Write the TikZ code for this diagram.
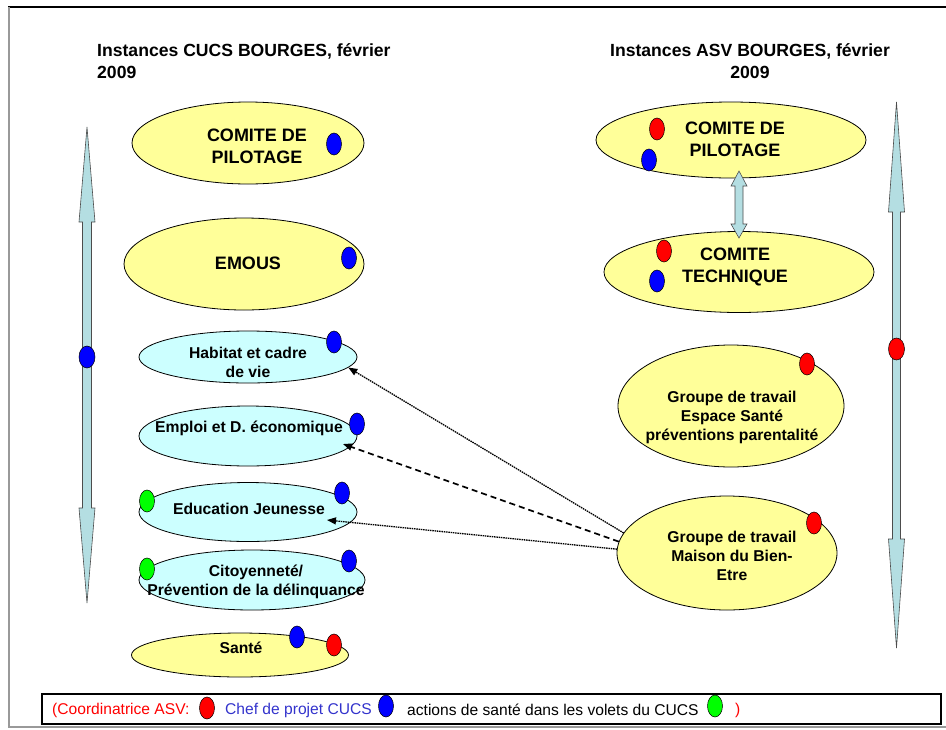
\documentclass[tikz,border=0pt]{standalone}
\usepackage{fontspec}
\setmainfont{Liberation Sans}
\usetikzlibrary{shapes.geometric,arrows.meta}

\definecolor{paleyellow}{HTML}{FFFF99}
\definecolor{palecyan}{HTML}{CCFFFF}
\definecolor{axisblue}{RGB}{180,222,226}
\definecolor{chefblue}{HTML}{3333CC}
\definecolor{dotblue}{HTML}{0000FF}
\definecolor{dotred}{HTML}{FF0000}
\definecolor{dotgreen}{HTML}{00FF00}
\definecolor{framegrey}{HTML}{999999}

\begin{document}
\begin{tikzpicture}[x=1pt,y=-1pt,
  instance/.style={ellipse, draw=black, line width=0.8pt, inner sep=0pt},
  yellowbox/.style={instance, fill=paleyellow},
  cyanbox/.style={instance, fill=palecyan},
  bigtext/.style={font=\fontsize{18}{22}\selectfont\bfseries, align=center, inner sep=0pt},
  smalltext/.style={font=\fontsize{15.7}{19}\selectfont\bfseries, align=center, inner sep=0pt},
  titletext/.style={font=\fontsize{17.6}{22}\selectfont\bfseries, inner sep=0pt},
  legendtext/.style={font=\fontsize{15.6}{19}\selectfont, inner sep=0pt, anchor=west},
  marker/.style={ellipse, draw=black, line width=0.5pt, minimum width=15pt, minimum height=22pt, inner sep=0pt},
  bluedot/.style={marker, fill=dotblue},
  reddot/.style={marker, fill=dotred},
  greendot/.style={marker, fill=dotgreen},
  axisarrow/.style={draw=black!70, line width=0.6pt, fill=axisblue},
  link/.style={-{Triangle[length=9pt,width=7pt]}, line width=1.3pt},
  finedots/.style={link, dash pattern=on 1.5pt off 0.8pt},
  coarsedash/.style={link, line width=1.7pt, dash pattern=on 6pt off 4pt}
]
\useasboundingbox (0,0) rectangle (946,729);

% page frame
\draw[line width=1.3pt] (8,7) -- (946,7);
\draw[framegrey, line width=1.5pt] (9,7) -- (9,727) -- (946,727);

% titles
\node[titletext, align=left, anchor=west] (ltitle) at (97,61) {Instances CUCS BOURGES, février\\2009};
\node[titletext, align=center] (rtitle) at (750,61) {Instances ASV BOURGES, février\\2009};

% vertical axis arrows
\draw[axisarrow] (87,127) -- (95,222) -- (91.5,222) -- (91.5,508) -- (95,508) -- (87,603)
  -- (79,508) -- (82.5,508) -- (82.5,222) -- (79,222) -- cycle;
\draw[axisarrow] (896.5,102) -- (904.5,212) -- (900.5,212) -- (900.5,539) -- (904.5,539) -- (896.5,648)
  -- (888.5,539) -- (892.5,539) -- (892.5,212) -- (888.5,212) -- cycle;

% CUCS instances
\node[yellowbox, minimum width=232pt, minimum height=82pt] (lpilot) at (248,143) {};
\node[bigtext] (lpilott) at (257,146) {COMITE DE\\PILOTAGE};
\node[yellowbox, minimum width=240pt, minimum height=92pt] (emous) at (244,264) {};
\node[bigtext] (emoust) at (248,263) {EMOUS};
\node[cyanbox, minimum width=218pt, minimum height=52pt] (habitat) at (248,357) {};
\node[smalltext] (habitatt) at (248,362) {Habitat et cadre\\de vie};
\node[cyanbox, minimum width=218pt, minimum height=60pt] (emploi) at (248,436) {};
\node[smalltext] (emploit) at (249,428) {Emploi et D. économique};
\node[cyanbox, minimum width=218pt, minimum height=59pt] (edu) at (248,512) {};
\node[smalltext] (edut) at (249,509) {Education Jeunesse};
\node[cyanbox, minimum width=226pt, minimum height=60pt] (cito) at (252,580) {};
\node[smalltext] (citot) at (256,582) {Citoyenneté/\\Prévention de la délinquance};
\node[yellowbox, minimum width=217pt, minimum height=44pt] (sante) at (240,655) {};
\node[smalltext] (santet) at (241,648) {Santé};

% ASV instances
\node[yellowbox, minimum width=270pt, minimum height=76pt] (rpilot) at (731,140) {};
\node[bigtext] (rpilott) at (735,139) {COMITE DE\\PILOTAGE};
\node[yellowbox, minimum width=270pt, minimum height=81pt] (tech) at (739,272) {};
\node[bigtext] (techt) at (735,267) {COMITE\\TECHNIQUE};
\node[yellowbox, minimum width=226pt, minimum height=122pt] (espace) at (731,406) {};
\node[smalltext] (espacet) at (732,417) {Groupe de travail\\Espace Santé\\préventions parentalité};
\node[yellowbox, minimum width=220pt, minimum height=114pt] (maison) at (727,553) {};
\node[smalltext] (maisont) at (732,556) {Groupe de travail\\Maison du Bien-\\Etre};

% link between the two committees
\draw[axisarrow] (739,171) -- (747,186) -- (743,186) -- (743,224) -- (747,224) -- (739,238)
  -- (731,224) -- (735,224) -- (735,186) -- (731,186) -- cycle;

% links from the Maison du Bien-Etre group
\draw[finedots] (maison.169) -- (habitat.-6);
\draw[coarsedash] (maison.174) -- ([shift={(95,8)}]emploi.center);
\draw[finedots] (maison.178) -- ([shift={(79,8)}]edu.center);

% role markers
\node[bluedot] (m1) at (334,144) {};
\node[bluedot] (m2) at (349,258) {};
\node[bluedot] (m3) at (334,342) {};
\node[bluedot] (m4) at (357,424) {};
\node[greendot] (m5) at (147,501) {};
\node[bluedot] (m6) at (342,493) {};
\node[greendot] (m7) at (147,569) {};
\node[bluedot] (m8) at (349,561) {};
\node[bluedot] (m9) at (297,637) {};
\node[reddot] (m10) at (334,645) {};
\node[bluedot, minimum width=16pt] (m11) at (87,357) {};
\node[reddot] (m12) at (657,129) {};
\node[bluedot] (m13) at (649,160) {};
\node[reddot] (m14) at (664,251) {};
\node[bluedot] (m15) at (657,281) {};
\node[reddot] (m16) at (807,364) {};
\node[reddot] (m17) at (814,523) {};
\node[reddot, minimum width=16pt] (m18) at (896.5,349) {};

% legend
\node[draw=black, line width=1.3pt, minimum width=899pt, minimum height=30pt, inner sep=0pt] (legend) at (491.5,709) {};
\node[legendtext, text=dotred] (lg1) at (52,710) {(Coordinatrice ASV:};
\node[reddot] (lgd1) at (207,708) {};
\node[legendtext, text=chefblue] (lg2) at (225,710) {Chef de projet CUCS};
\node[bluedot] (lgd2) at (386,706) {};
\node[legendtext] (lg3) at (407,710) {actions de santé dans les volets du CUCS};
\node[greendot] (lgd3) at (715,706) {};
\node[legendtext, text=dotred] (lg4) at (735,710) {)};
\end{tikzpicture}
\end{document}
